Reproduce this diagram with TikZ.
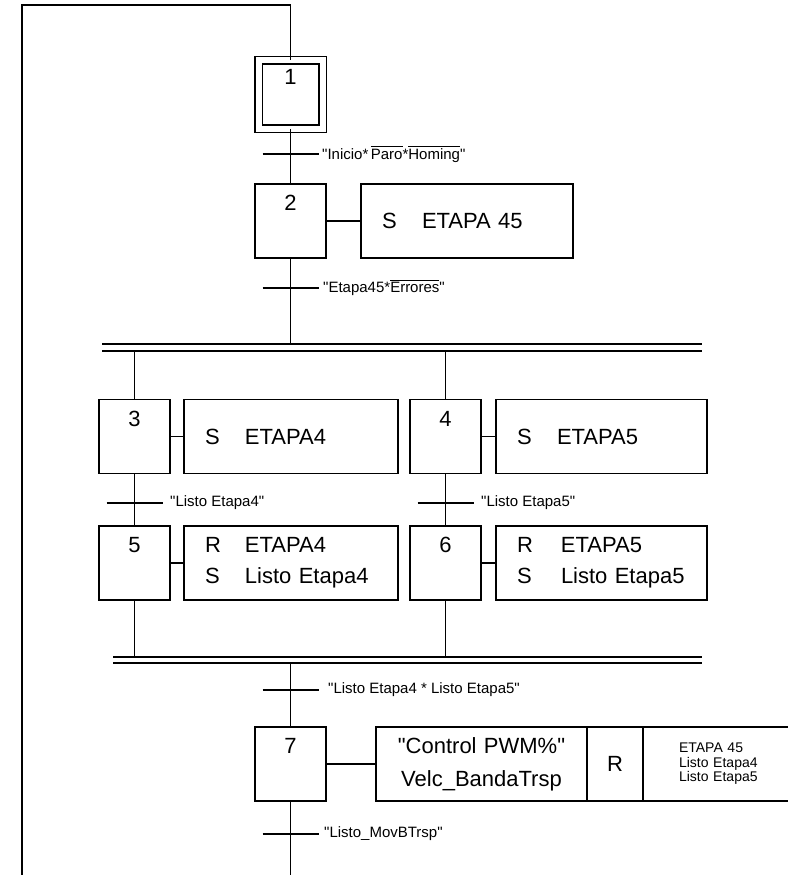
\documentclass[tikz,border=0pt]{standalone}
\usepackage{fontspec}
\setmainfont{Liberation Sans}[Ligatures=TeXOff]
\newcommand{\negada}[1]{\vbox{\hrule height 0.8pt\kern 1.8pt\hbox{#1}}}
\newcommand{\orden}[3][40pt]{\mbox{\makebox[#1][l]{#2}#3}}
\tikzset{
  etapa/.style={draw, minimum width=71pt, minimum height=74pt, inner sep=0pt},
  numero/.style={anchor=north, inner sep=0pt, font=\fontsize{22}{22}\selectfont},
  num/.style={label={[numero, yshift=-11.5pt]north:#1}},
  accion/.style={draw, anchor=west, minimum height=74pt, inner xsep=21pt, inner ysep=0pt,
    outer sep=0pt, align=left, font=\fontsize{22}{31}\selectfont},
  receptiva/.style={anchor=west, inner sep=0pt, font=\fontsize{15}{15}\selectfont},
  barra/.style={line width=1.4pt},
}
\begin{document}
\begin{tikzpicture}[x=1pt, y=-1pt, line width=1.1pt]
  \useasboundingbox (0,0) rectangle (787,875);

  % etapa inicial y etapa 2
  \node[etapa, double, double distance=6pt, minimum width=64pt, minimum height=68pt,
    label={[numero, yshift=-9pt]north:1}] (s1) at (290.5,94.5) {};
  \node[etapa, num=2] (s2) at (290.5,221) {};
  \node[accion, text width=170pt] (a2) at (361,221) {\orden{S}{ETAPA 45}};
  \draw (s1) -- (s2);
  \draw (s2) -- (a2);
  \coordinate (t1) at (290.5,154);
  \draw[barra] ([xshift=-28pt]t1) -- ([xshift=28pt]t1)
    node[receptiva, xshift=3pt] {"Inicio*\,\negada{Paro}*\negada{Homing}"};

  % divergencia en Y
  \coordinate (div1) at (290.5,344);
  \coordinate (div2) at (290.5,351);
  \draw (s2) -- (div1);
  \coordinate (t2) at (290.5,288);
  \draw[barra] ([xshift=-28pt]t2) -- ([xshift=28pt]t2)
    node[receptiva, xshift=4pt] {"Etapa45*\negada{Errores}"};
  \draw[barra] (102,344) -- (702,344);
  \draw[barra] (102,351) -- (702,351);

  % rama izquierda
  \node[etapa, num=3] (s3) at (134.5,436.5) {};
  \node[accion, text width=172pt] (a3) at (184,436.5) {\orden{S}{ETAPA4}};
  \node[etapa, num=5] (s5) at (134.5,563) {};
  \node[accion, text width=172pt] (a5) at (184,563) {\orden{R}{ETAPA4}\\\orden{S}{Listo Etapa4}};
  \draw (div2 -| s3) -- (s3);
  \draw (s3) -- (a3);
  \draw (s3) -- (s5);
  \draw (s5) -- (a5);
  \coordinate (t3) at (134.5,503);
  \draw[barra] ([xshift=-28pt]t3) -- ([xshift=28pt]t3)
    node[receptiva, xshift=7pt] {"Listo Etapa4"};

  % rama derecha
  \node[etapa, num=4] (s4) at (445.5,436.5) {};
  \node[accion, text width=169pt] (a4) at (496,436.5) {\orden{S}{ETAPA5}};
  \node[etapa, num=6] (s6) at (445.5,563) {};
  \node[accion, text width=169pt] (a6) at (496,563) {\orden[44pt]{R}{ETAPA5}\\\orden[44pt]{S}{Listo Etapa5}};
  \draw (div2 -| s4) -- (s4);
  \draw (s4) -- (a4);
  \draw (s4) -- (s6);
  \draw (s6) -- (a6);
  \coordinate (t4) at (445.5,503);
  \draw[barra] ([xshift=-28pt]t4) -- ([xshift=28pt]t4)
    node[receptiva, xshift=7pt] {"Listo Etapa5"};

  % convergencia en Y
  \coordinate (con1) at (290.5,657);
  \coordinate (con2) at (290.5,663);
  \draw[barra] (113,657) -- (702,657);
  \draw[barra] (113,663) -- (702,663);
  \draw (s5) -- (s5 |- con1);
  \draw (s6) -- (s6 |- con1);

  % etapa 7
  \node[etapa, num=7] (s7) at (290.5,764) {};
  \node[accion, text width=169pt, align=center, font=\fontsize{22}{33}\selectfont] (a7)
    at (376,764) {"Control PWM\%"\\Velc\_BandaTrsp};
  \node[accion, inner xsep=0pt, minimum width=56pt] (a7r) at (a7.east) {R};
  \node[accion, inner xsep=36pt, text width=114pt, font=\fontsize{14}{14.5}\selectfont] (a7l)
    at (a7r.east) {ETAPA 45\\Listo Etapa4\\Listo Etapa5};
  \draw (con2) -- (s7);
  \draw (s7) -- (a7);
  \coordinate (t5) at (290.5,690);
  \draw[barra] ([xshift=-28pt]t5) -- ([xshift=28pt]t5)
    node[receptiva, xshift=9pt] {"Listo Etapa4 * Listo Etapa5"};

  % salida y retorno a la etapa 1
  \coordinate (fin) at (290.5,880);
  \coordinate (retorno) at (22,880);
  \coordinate (esquina) at (22,5);
  \draw (s7) -- (fin);
  \coordinate (t6) at (290.5,834);
  \draw[barra] ([xshift=-28pt]t6) -- ([xshift=28pt]t6)
    node[receptiva, xshift=5pt] {"Listo\_MovBTrsp"};
  \draw (retorno) -- (esquina) -| (s1.north);
\end{tikzpicture}
\end{document}
